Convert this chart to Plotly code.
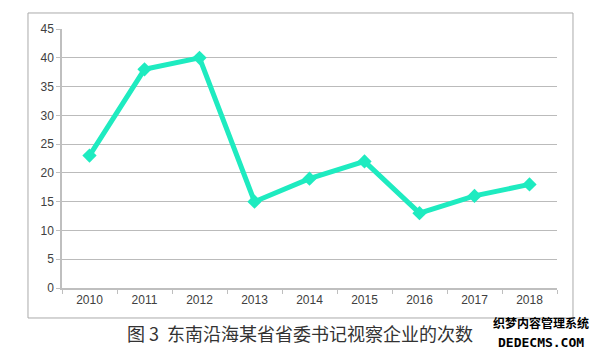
import plotly.graph_objects as go

years = ["2010", "2011", "2012", "2013", "2014", "2015", "2016", "2017", "2018"]
visits = [23, 38, 40, 15, 19, 22, 13, 16, 18]
y_ticks = [0, 5, 10, 15, 20, 25, 30, 35, 40, 45]
caption = "图 3  东南沿海某省省委书记视察企业的次数"

fig = go.Figure()
fig.add_trace(go.Scatter(
    x=years, y=visits, mode="lines+markers",
    line=dict(color="#1EEBC0", width=5),
    marker=dict(symbol="diamond", size=11, color="#1EEBC0"),
    showlegend=False, cliponaxis=False,
))

fig.update_layout(
    width=602, height=354,
    margin=dict(l=62, r=45, t=29, b=66),
    paper_bgcolor="white", plot_bgcolor="white",
    font=dict(family="Liberation Sans, Arial, sans-serif", size=12, color="#404040"),
    xaxis=dict(
        type="category", range=[-0.5, 8.5], showgrid=False,
        tickson="boundaries", ticks="outside", ticklen=4, tickcolor="#BFBFBF",
        showline=True, linecolor="#BFBFBF", linewidth=1.5,
        tickfont=dict(size=12, color="#404040"),
    ),
    yaxis=dict(
        range=[0, 45], tickvals=y_ticks, showgrid=True, gridcolor="#BBBBBB", gridwidth=1.2,
        ticks="outside", ticklen=4, tickcolor="#BFBFBF",
        showline=True, linecolor="#BFBFBF", linewidth=1.5, zeroline=False,
        tickfont=dict(size=12, color="#404040"),
    ),
    shapes=[dict(type="rect", xref="paper", yref="paper",
                 x0=-0.0687, x1=1.0323, y0=-0.1158, y1=1.0618,
                 line=dict(color="#AAAAAA", width=1), fillcolor="rgba(0,0,0,0)", layer="below")],
    annotations=[
        dict(text=caption, xref="paper", yref="paper", x=0.481, y=-0.172,
             xanchor="center", yanchor="middle", showarrow=False,
             font=dict(family="Noto Sans CJK SC", size=18, color="#333333")),
        dict(text="<b>织梦内容管理系统</b>", xref="paper", yref="paper", x=0.968, y=-0.172,
             xanchor="center", yanchor="bottom", showarrow=False,
             font=dict(family="Noto Sans CJK SC", size=12, color="#000000")),
        dict(text="<b>DEDECMS.COM</b>", xref="paper", yref="paper", x=0.968, y=-0.172,
             xanchor="center", yanchor="top", showarrow=False,
             font=dict(family="DejaVu Sans Mono", size=13, color="#000000")),
    ],
)

fig.write_html("out.html")
